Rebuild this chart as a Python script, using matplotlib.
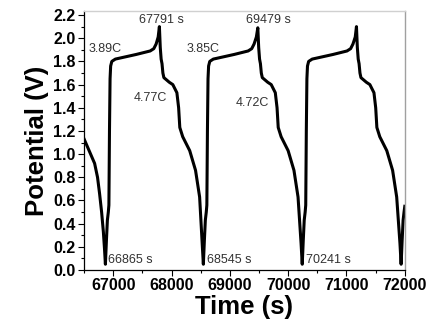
import matplotlib
matplotlib.use("Agg")
import matplotlib.pyplot as plt
from matplotlib.ticker import MultipleLocator, FormatStrFormatter

plt.rcParams['font.family'] = ['Liberation Sans', 'DejaVu Sans']

# Galvanostatic charge/discharge potential profile
time_s = [
    66500, 66560, 66620, 66680, 66730, 66765, 66800, 66830, 66850, 66865,
    66882, 66899, 66915, 66925, 66935, 66945, 66955, 66975, 67036,
    67215, 67394, 67633, 67695, 67735, 67770, 67791,
    67806, 67821, 67836, 67851, 67868, 67961, 68021, 68091, 68121, 68141,
    68191, 68311, 68411, 68481, 68525, 68545,
    68562, 68579, 68595, 68605, 68615, 68625, 68635, 68655, 68716,
    68895, 69074, 69313, 69375, 69415, 69454, 69479,
    69494, 69509, 69524, 69539, 69556, 69649, 69709, 69779, 69809, 69829,
    69879, 69999, 70099, 70169, 70221, 70241,
    70258, 70275, 70291, 70301, 70311, 70321, 70331, 70351, 70412,
    70591, 70770, 71009, 71071, 71111, 71150, 71171,
    71186, 71201, 71216, 71231, 71248, 71341, 71401, 71471, 71501, 71521,
    71571, 71691, 71791, 71861, 71917, 71937,
    71954, 71971, 71987, 72000,
]
potential_v = [
    1.13, 1.06, 0.99, 0.92, 0.80, 0.66, 0.50, 0.33, 0.18, 0.05,
    0.25, 0.43, 0.50, 0.56, 1.20, 1.65, 1.76, 1.80, 1.82,
    1.84, 1.86, 1.89, 1.91, 1.95, 2.01, 2.10,
    1.92, 1.82, 1.78, 1.70, 1.66, 1.62, 1.60, 1.53, 1.40, 1.23,
    1.15, 1.03, 0.86, 0.63, 0.23, 0.05,
    0.25, 0.43, 0.50, 0.56, 1.20, 1.65, 1.76, 1.80, 1.82,
    1.84, 1.86, 1.89, 1.91, 1.95, 2.01, 2.09,
    1.92, 1.82, 1.78, 1.70, 1.66, 1.62, 1.60, 1.53, 1.40, 1.23,
    1.15, 1.03, 0.86, 0.63, 0.23, 0.05,
    0.25, 0.43, 0.50, 0.56, 1.20, 1.65, 1.76, 1.80, 1.82,
    1.84, 1.86, 1.89, 1.91, 1.95, 2.01, 2.10,
    1.92, 1.82, 1.78, 1.70, 1.66, 1.62, 1.60, 1.53, 1.40, 1.23,
    1.15, 1.03, 0.86, 0.63, 0.23, 0.05,
    0.25, 0.43, 0.50, 0.55,
]

# Annotations: (text, x, y, horizontal alignment)
annotations = [
    ("67791 s", 67819, 2.16, "center"),
    ("3.89C", 66580, 1.91, "left"),
    ("4.77C", 67358, 1.48, "left"),
    ("66865 s", 66910, 0.09, "left"),
    ("69479 s", 69662, 2.16, "center"),
    ("3.85C", 68255, 1.91, "left"),
    ("4.72C", 69099, 1.44, "left"),
    ("68545 s", 68615, 0.09, "left"),
    ("70241 s", 70305, 0.09, "left"),
]

fig = plt.figure(figsize=(4.27, 3.23), dpi=100)
ax = fig.add_axes([0.197, 0.164, 0.751, 0.802])

ax.plot(time_s, potential_v, color="black", lw=2.2, solid_joinstyle="round")

for text, x, y, ha in annotations:
    ax.text(x, y, text, fontsize=9, ha=ha, va="center", color="#333333")

ax.set_xlim(66500, 72000)
ax.set_ylim(0, 2.235)
ax.xaxis.set_major_locator(MultipleLocator(1000))
ax.xaxis.set_minor_locator(MultipleLocator(500))
ax.yaxis.set_major_locator(MultipleLocator(0.2))
ax.yaxis.set_minor_locator(MultipleLocator(0.1))
ax.yaxis.set_major_formatter(FormatStrFormatter("%.1f"))

ax.tick_params(which="major", direction="out", length=4, width=0.8,
               labelsize=11.5, top=False, right=False, pad=2)
ax.tick_params(which="minor", direction="out", length=2, width=0.8,
               top=False, right=False)
for lbl in ax.get_xticklabels() + ax.get_yticklabels():
    lbl.set_fontweight("bold")

for side in ("left", "bottom"):
    ax.spines[side].set_color("black")
    ax.spines[side].set_linewidth(0.9)
ax.spines["top"].set_color("#d0d0d0")
ax.spines["right"].set_color("#a0a0a0")
ax.spines["top"].set_linewidth(1.0)
ax.spines["right"].set_linewidth(1.0)

ax.set_xlabel("Time (s)", fontsize=18.5, fontweight="bold", labelpad=1)
ax.set_ylabel("Potential (V)", fontsize=18.5, fontweight="bold", labelpad=3)

fig.savefig("out.png", dpi=100)
